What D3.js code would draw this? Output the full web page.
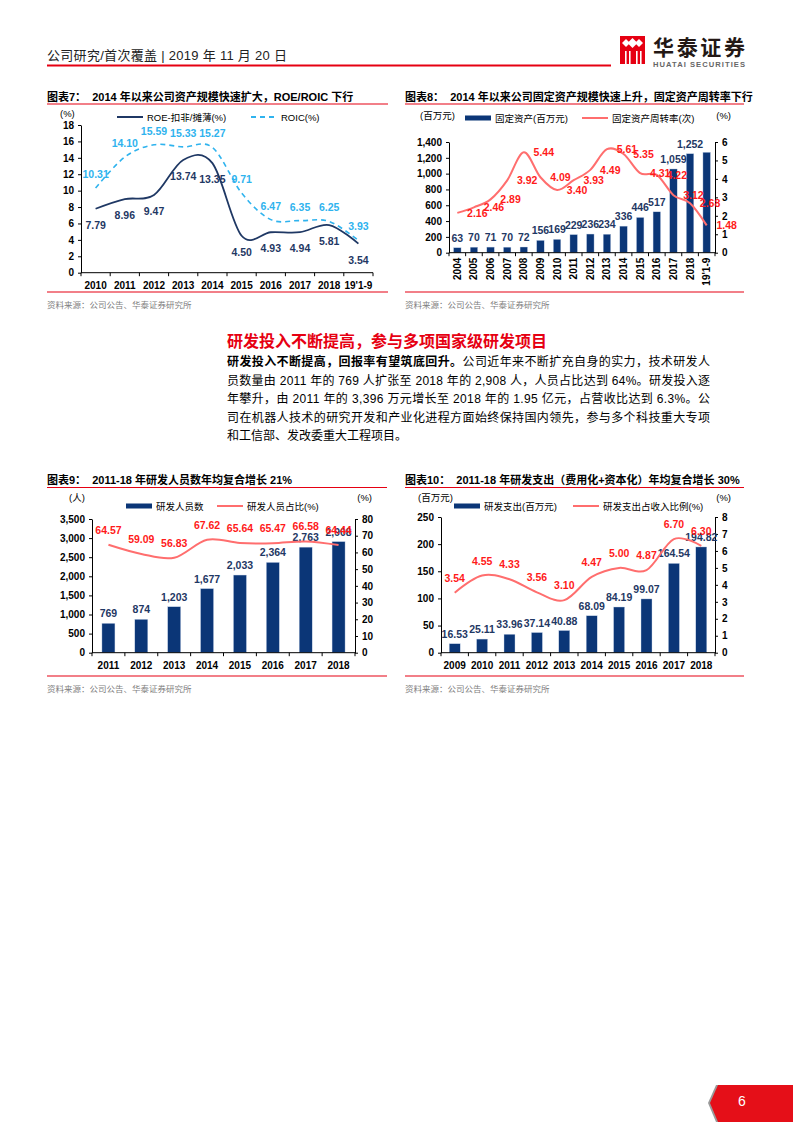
<!DOCTYPE html>
<html lang="zh">
<head>
<meta charset="UTF-8">
<title>华泰证券 研究报告 第6页</title>
<script src="https://d3js.org/d3.v7.min.js"></script>
<style>
    body { margin: 0; background: #fff; }
    text { font-family: 'Liberation Sans', 'Noto Sans CJK SC', sans-serif; }
</style>
</head>
<body>
<script>
    // ---- data ----
    const roeYears   = ['2010', '2011', '2012', '2013', '2014', '2015', '2016', '2017', '2018', "19'1-9"];
    const roeValues  = [7.79, 8.96, 9.47, 13.74, 13.35, 4.50, 4.93, 4.94, 5.81, 3.54];
    const roicValues = [10.31, 14.10, 15.59, 15.33, 15.27, 9.71, 6.47, 6.35, 6.25, 3.93];
    const roeTicks   = [0, 2, 4, 6, 8, 10, 12, 14, 16, 18];

    const faYears     = ['2004', '2005', '2006', '2007', '2008', '2009', '2010', '2011', '2012', '2013',
                         '2014', '2015', '2016', '2017', '2018', "19'1-9"];
    const fixedAssets = [63, 70, 71, 70, 72, 156, 169, 229, 236, 234, 336, 446, 517, 1059, 1252, 1270];
    const faTurnover  = [2.16, 2.46, 2.89, 3.92, 5.44, 4.09, 3.40, 3.93, 4.49, 5.61, 5.35, 4.31, 4.22, 3.12, 2.68, 1.48];
    const faLabelled  = 15;   // the last bar carries no value label
    const faTicks     = [0, 200, 400, 600, 800, 1000, 1200, 1400];
    const faTicksR    = [0, 1, 2, 3, 4, 5, 6];

    const staffYears = ['2011', '2012', '2013', '2014', '2015', '2016', '2017', '2018'];
    const rdStaff    = [769, 874, 1203, 1677, 2033, 2364, 2763, 2908];
    const staffShare = [64.57, 59.09, 56.83, 67.62, 65.64, 65.47, 66.58, 64.44];
    const staffTicks  = [0, 500, 1000, 1500, 2000, 2500, 3000, 3500];
    const staffTicksR = [0, 10, 20, 30, 40, 50, 60, 70, 80];

    const spendYears = ['2009', '2010', '2011', '2012', '2013', '2014', '2015', '2016', '2017', '2018'];
    const rdSpend    = [16.53, 25.11, 33.96, 37.14, 40.88, 68.09, 84.19, 99.07, 164.54, 194.82];
    const spendRatio = [3.54, 4.55, 4.33, 3.56, 3.10, 4.47, 5.00, 4.87, 6.70, 6.30];
    const spendTicks  = [0, 50, 100, 150, 200, 250];
    const spendTicksR = [0, 1, 2, 3, 4, 5, 6, 7, 8];

    const paraLines = [
        ['研发投入不断提高，回报率有望筑底回升。', '公司近年来不断扩充自身的实力，技术研发人'],
        ['', '员数量由 2011 年的 769 人扩张至 2018 年的 2,908 人，人员占比达到 64%。研发投入逐'],
        ['', '年攀升，由 2011 年的 3,396 万元增长至 2018 年的 1.95 亿元，占营收比达到 6.3%。公'],
        ['', '司在机器人技术的研究开发和产业化进程方面始终保持国内领先，参与多个科技重大专项'],
        ['', '和工信部、发改委重大工程项目。']
    ];

    // ---- styles ----
    const font  = "'Liberation Sans', 'Noto Sans CJK SC', sans-serif";
    const cjk   = "'Noto Sans CJK SC', 'Liberation Sans', sans-serif";
    const red   = '#E60012';
    const navy  = '#0B3677';
    const sky   = '#2FB3EE';
    const pink  = '#FF6E6E';
    const lblRed = '#FF1A1A';
    const smooth = d3.curveCardinal.tension(0);

    const svg = d3.select('body').append('svg').attr('width', 793).attr('height', 1122);

    // ---- page header ----
    svg.append('text').attr('x', 47).attr('y', 60).attr('font-size', 13).attr('fill', '#222')
        .attr('textLength', 240).attr('lengthAdjust', 'spacing')
        .text('公司研究/首次覆盖 | 2019 年 11 月 20 日');
    svg.append('line').attr('x1', 47).attr('x2', 611).attr('y1', 65.5).attr('y2', 65.5)
        .attr('stroke', red).attr('stroke-width', 2);

    // logo
    const logo = svg.append('g');
    logo.append('rect').attr('x', 620).attr('y', 36).attr('width', 25).attr('height', 28).attr('fill', red);
    [[626, 43], [639, 43], [632.5, 43]].forEach(([cx, cy], i) => {
        const r = i === 2 ? 5 : 4;
        logo.append('path').attr('d', `M${cx},${cy - r}L${cx + r},${cy}L${cx},${cy + r}L${cx - r},${cy}Z`)
            .attr('fill', '#fff');
    });
    [625, 629, 636, 640].forEach(x => logo.append('rect').attr('x', x).attr('y', 51).attr('width', 1.6)
        .attr('height', 13).attr('fill', '#fff'));
    logo.append('text').attr('x', 653).attr('y', 55).attr('font-family', cjk).attr('font-size', 21)
        .attr('font-weight', 'bold').attr('fill', '#231815').attr('textLength', 92).text('华泰证券');
    logo.append('text').attr('x', 653).attr('y', 66.5).attr('font-size', 7.6).attr('font-weight', 'bold')
        .attr('fill', '#666').attr('textLength', 92).text('HUATAI SECURITIES');

    // ---- helpers ----
    function frame(x0, x1, titleY, title, bottomY) {
        svg.append('text').attr('x', x0).attr('y', titleY).attr('font-size', 11).attr('font-weight', 'bold')
            .attr('fill', '#000').attr('xml:space', 'preserve').text(title);
        svg.append('line').attr('x1', x0).attr('x2', x1).attr('y1', titleY + 3.5).attr('y2', titleY + 3.5)
            .attr('stroke', red).attr('stroke-width', 1.2);
        svg.append('line').attr('x1', x0).attr('x2', x1).attr('y1', bottomY).attr('y2', bottomY)
            .attr('stroke', red).attr('stroke-width', 1.2);
        svg.append('text').attr('x', x0).attr('y', bottomY + 16).attr('font-family', cjk).attr('font-size', 8.5)
            .attr('fill', '#808080').text('资料来源：公司公告、华泰证券研究所');
    }

    function yAxis(x, scale, ticks, side, fmt) {
        const axis = (side === 'left' ? d3.axisLeft(scale) : d3.axisRight(scale))
            .tickValues(ticks).tickSize(3).tickSizeOuter(0).tickPadding(4).tickFormat(fmt);
        const a = svg.append('g').attr('transform', `translate(${x},0)`).call(axis);
        a.select('.domain').attr('stroke', '#000');
        a.selectAll('line').attr('stroke', '#000');
        a.selectAll('text').attr('font-family', font).attr('font-size', 10).attr('font-weight', 'bold')
            .attr('fill', '#000');
    }

    function xAxis(xs, y, rotate) {
        const [r0, r1] = xs.range();
        const g = svg.append('g');
        g.append('line').attr('x1', r0).attr('x2', r1).attr('y1', y).attr('y2', y).attr('stroke', '#000');
        const edges = xs.domain().map(c => xs(c)).concat([r1]);
        g.selectAll('.tk').data(edges).join('line').attr('class', 'tk')
            .attr('x1', d => d).attr('x2', d => d).attr('y1', y).attr('y2', y + 3.5).attr('stroke', '#000');
        const lab = g.selectAll('.lb').data(xs.domain()).join('text').attr('class', 'lb')
            .attr('font-size', 10).attr('font-weight', 'bold').attr('fill', '#000').text(d => d);
        if (rotate) {
            lab.attr('text-anchor', 'end')
                .attr('transform', d => `translate(${xs(d) + xs.bandwidth() / 2 + 3.5},${y + 5}) rotate(-90)`);
        } else {
            lab.attr('text-anchor', 'middle').attr('x', d => xs(d) + xs.bandwidth() / 2).attr('y', y + 16);
        }
    }

    function legendBar(x, y, label) {
        svg.append('rect').attr('x', x).attr('y', y - 2.5).attr('width', 26).attr('height', 5).attr('fill', navy);
        svg.append('text').attr('x', x + 30).attr('y', y + 3.5).attr('font-family', cjk).attr('font-size', 9.5)
            .attr('fill', '#000').text(label);
    }
    function legendLine(x, y, label, color, dash) {
        svg.append('line').attr('x1', x).attr('x2', x + 26).attr('y1', y).attr('y2', y)
            .attr('stroke', color).attr('stroke-width', 2).attr('stroke-dasharray', dash || null);
        svg.append('text').attr('x', x + 30).attr('y', y + 3.5).attr('font-family', cjk).attr('font-size', 9.5)
            .attr('fill', '#000').text(label);
    }
    function unit(x, y, label, anchor) {
        svg.append('text').attr('x', x).attr('y', y).attr('font-family', cjk).attr('font-size', 9.5)
            .attr('text-anchor', anchor || 'start').attr('fill', '#000').text(label);
    }

    function bars(xs, ys, cats, vals, width) {
        svg.append('g').selectAll('rect').data(vals).join('rect')
            .attr('x', (d, i) => xs(cats[i]) + (xs.bandwidth() - width) / 2)
            .attr('y', d => ys(d)).attr('width', width).attr('height', d => ys(0) - ys(d))
            .attr('fill', navy).attr('stroke', '#c9d6ea').attr('stroke-width', 0.4);
    }
    function barLabels(xs, ys, cats, vals, fmt) {
        svg.append('g').selectAll('text').data(vals).join('text')
            .attr('x', (d, i) => xs(cats[i]) + xs.bandwidth() / 2).attr('y', d => ys(d) - 6)
            .attr('text-anchor', 'middle').attr('font-size', 10.5).attr('font-weight', 'bold')
            .attr('fill', '#1F3864').text(fmt);
    }
    function smoothLine(xs, ys, cats, vals, color, width, dash) {
        const line = d3.line().x((d, i) => xs(cats[i]) + xs.bandwidth() / 2).y(d => ys(d)).curve(smooth);
        svg.append('path').attr('d', line(vals)).attr('fill', 'none').attr('stroke', color)
            .attr('stroke-width', width).attr('stroke-dasharray', dash || null);
    }
    function pointLabels(xs, ys, cats, vals, dx, dy, color) {
        svg.append('g').selectAll('text').data(vals).join('text')
            .attr('x', (d, i) => xs(cats[i]) + xs.bandwidth() / 2 + dx).attr('y', d => ys(d) + dy)
            .attr('text-anchor', 'middle').attr('dominant-baseline', 'central')
            .attr('font-size', 10.5).attr('font-weight', 'bold').attr('fill', color)
            .text(d => d3.format('.2f')(d));
    }

    // ---- chart 7: ROE / ROIC ----
    frame(47, 388, 100.5, '图表7：  2014 年以来公司资产规模快速扩大，ROE/ROIC 下行', 292);
    const x7 = d3.scaleBand().domain(roeYears).range([81, 373]);
    const y7 = d3.scaleLinear().domain([0, 18]).range([272.7, 125]);
    unit(60, 117, '(%)');
    legendLine(117, 117, 'ROE-扣非/摊薄(%)', '#1F3864');
    legendLine(251, 117, 'ROIC(%)', sky, '5,4');
    yAxis(81, y7, roeTicks, 'left', d3.format('d'));
    xAxis(x7, 272.7, false);
    smoothLine(x7, y7, roeYears, roicValues, sky, 1.6, '5,4');
    smoothLine(x7, y7, roeYears, roeValues, '#1F3864', 1.8);
    pointLabels(x7, y7, roeYears, roicValues, 0, -14, sky);
    pointLabels(x7, y7, roeYears, roeValues, 0, 16, '#1F3864');

    // ---- chart 8: fixed assets ----
    frame(405, 744, 100.5, '图表8：  2014 年以来公司固定资产规模快速上升，固定资产周转率下行', 292);
    const x8 = d3.scaleBand().domain(faYears).range([449, 715]);
    const y8 = d3.scaleLinear().domain([0, 1400]).range([252.7, 142]);
    const y8r = d3.scaleLinear().domain([0, 6]).range([252.7, 142]);
    unit(420, 119, '(百万元)');
    unit(731, 119, '(%)', 'end');
    legendBar(465, 118, '固定资产(百万元)');
    legendLine(582, 118, '固定资产周转率(次)', pink);
    bars(x8, y8, faYears, fixedAssets, 7.5);
    yAxis(449, y8, faTicks, 'left', d3.format(','));
    yAxis(715, y8r, faTicksR, 'right', d3.format('d'));
    xAxis(x8, 252.7, true);
    barLabels(x8, y8, faYears, fixedAssets.slice(0, faLabelled), d3.format(','));
    smoothLine(x8, y8r, faYears, faTurnover, pink, 2);
    pointLabels(x8, y8r, faYears, faTurnover, 20, 0, lblRed);

    // ---- text block ----
    svg.append('text').attr('x', 227).attr('y', 347).attr('font-family', cjk).attr('font-size', 16)
        .attr('font-weight', 'bold').attr('fill', red).text('研发投入不断提高，参与多项国家级研发项目');
    const lineYs = [366, 384.5, 403, 421.5, 440];
    paraLines.forEach((parts, i) => {
        const t = svg.append('text').attr('x', 227).attr('y', lineYs[i]).attr('font-family', cjk)
            .attr('font-size', 12).attr('fill', '#000');
        if (i < paraLines.length - 1) t.attr('textLength', 483).attr('lengthAdjust', 'spacing');
        if (parts[0]) t.append('tspan').attr('font-weight', 'bold').text(parts[0]);
        t.append('tspan').text(parts[1]);
    });

    // ---- chart 9: R&D staff ----
    frame(47, 387, 484, '图表9：  2011-18 年研发人员数年均复合增长 21%', 676);
    const x9 = d3.scaleBand().domain(staffYears).range([92, 355]);
    const y9 = d3.scaleLinear().domain([0, 3500]).range([652.7, 519]);
    const y9r = d3.scaleLinear().domain([0, 80]).range([652.7, 519]);
    unit(69, 501, '(人)');
    unit(372, 501, '(%)', 'end');
    legendBar(126, 506, '研发人员数');
    legendLine(217, 506, '研发人员占比(%)', pink);
    bars(x9, y9, staffYears, rdStaff, 13);
    yAxis(92, y9, staffTicks, 'left', d3.format(','));
    yAxis(355, y9r, staffTicksR, 'right', d3.format('d'));
    xAxis(x9, 652.7, false);
    barLabels(x9, y9, staffYears, rdStaff, d3.format(','));
    smoothLine(x9, y9r, staffYears, staffShare, pink, 2);
    pointLabels(x9, y9r, staffYears, staffShare, 0, -15, lblRed);

    // ---- chart 10: R&D spending ----
    frame(405, 744, 484, '图表10：  2011-18 年研发支出（费用化+资本化）年均复合增长 30%', 676);
    const x10 = d3.scaleBand().domain(spendYears).range([441, 715]);
    const y10 = d3.scaleLinear().domain([0, 250]).range([652.7, 517]);
    const y10r = d3.scaleLinear().domain([0, 8]).range([652.7, 517]);
    unit(418, 501, '(百万元)');
    unit(731, 501, '(%)', 'end');
    legendBar(454, 506, '研发支出(百万元)');
    legendLine(573, 506, '研发支出占收入比例(%)', pink);
    bars(x10, y10, spendYears, rdSpend, 11);
    yAxis(441, y10, spendTicks, 'left', d3.format('d'));
    yAxis(715, y10r, spendTicksR, 'right', d3.format('d'));
    xAxis(x10, 652.7, false);
    barLabels(x10, y10, spendYears, rdSpend, d3.format('.2f'));
    smoothLine(x10, y10r, spendYears, spendRatio, pink, 2);
    pointLabels(x10, y10r, spendYears, spendRatio, 0, -15, lblRed);

    // ---- page footer ----
    const tab = 'M718,1085L793,1085L793,1122L718,1122L710,1103Z';
    svg.append('path').attr('d', tab).attr('fill', '#9a9a9a').attr('transform', 'translate(-2,0)');
    svg.append('path').attr('d', tab).attr('fill', '#E50F18');
    svg.append('text').attr('x', 742).attr('y', 1106).attr('font-size', 14).attr('fill', '#fff')
        .attr('text-anchor', 'middle').text('6');
</script>
</body>
</html>
